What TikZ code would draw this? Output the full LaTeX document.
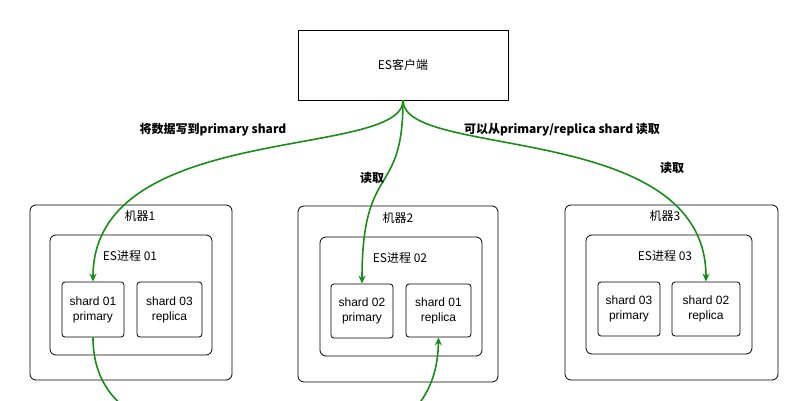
\documentclass[tikz,border=0pt]{standalone}
\usepackage{fontspec}
\setmainfont{Liberation Sans}
\newfontfamily\cjk{Noto Sans CJK SC}
\usetikzlibrary{arrows.meta}
\definecolor{flowgreen}{HTML}{1A8C1A}
\tikzset{
  box/.style={draw, rounded corners=6pt, line width=0.8pt},
  shardbox/.style={draw, rounded corners=3pt, line width=0.8pt, align=center, font=\fontsize{12}{15}\selectfont, inner sep=0pt},
  flow/.style={flowgreen, line width=1.6pt, -{Stealth[length=8pt,width=7pt]}},
  lbl/.style={font=\cjk\bfseries\fontsize{12}{14}\selectfont},
  txt/.style={font=\cjk\fontsize{12}{14}\selectfont}
}
\begin{document}
\begin{tikzpicture}[x=1pt,y=-1pt]
    \useasboundingbox (0,0) rectangle (796,400);
    \clip (0,0) rectangle (796,400);
    \node[draw, line width=0.8pt, minimum width=210pt, minimum height=70pt, txt] (client) at (403,65) {ES客户端};
    % machines
    \draw[box] (30,205) rectangle (232,380);
    \node[txt] (m1) at (140,216) {机器1};
    \draw[box] (50,235) rectangle (212,355);
    \node[txt] (p1) at (130,256) {ES进程 01};
    \draw[box] (298,206) rectangle (498,382);
    \node[txt] (m2) at (398,218) {机器2};
    \draw[box] (320,237) rectangle (482,356);
    \node[txt] (p2) at (400,258) {ES进程 02};
    \draw[box] (565,205) rectangle (778,380);
    \node[txt] (m3) at (665,216) {机器3};
    \draw[box] (586,235) rectangle (752,354);
    \node[txt] (p3) at (665,256) {ES进程 03};
    % shards
    \node[shardbox, minimum width=62pt, minimum height=55pt] (s1p) at (93,309.5) {shard 01\\primary};
    \node[shardbox, minimum width=65pt, minimum height=55pt] (s3r) at (169.5,309.5) {shard 03\\replica};
    \node[shardbox, minimum width=62pt, minimum height=54pt] (s2p) at (362,311) {shard 02\\primary};
    \node[shardbox, minimum width=65pt, minimum height=53pt] (s1r) at (438.5,310.5) {shard 01\\replica};
    \node[shardbox, minimum width=62pt, minimum height=54pt] (s3p) at (629,309) {shard 03\\primary};
    \node[shardbox, minimum width=68pt, minimum height=54pt] (s2r) at (706,309) {shard 02\\replica};
    % flows
    \draw[flow] (client.south) .. controls (403,160) and (93,120) .. (s1p.north);
    \draw[flow] (client.south) .. controls (403,200) and (362,160) .. (s2p.north);
    \draw[flow] (client.south) .. controls (403,160) and (706,120) .. (s2r.north);
    \coordinate (b1) at (122,405);
    \coordinate (b2) at (418,405);
    \draw[flowgreen, line width=1.6pt] (s1p.south) .. controls (93,375) and (110,395) .. (b1);
    \draw[flow] (b2) .. controls (430,390) and (438,370) .. (s1r.south);
    \node[lbl] (w) at (213,130) {将数据写到primary shard};
    \node[lbl] (r1) at (372,178) {读取};
    \node[lbl] (r2) at (562,130) {可以从primary/replica shard 读取};
    \node[lbl] (r3) at (672,168) {读取};
\end{tikzpicture}
\end{document}
